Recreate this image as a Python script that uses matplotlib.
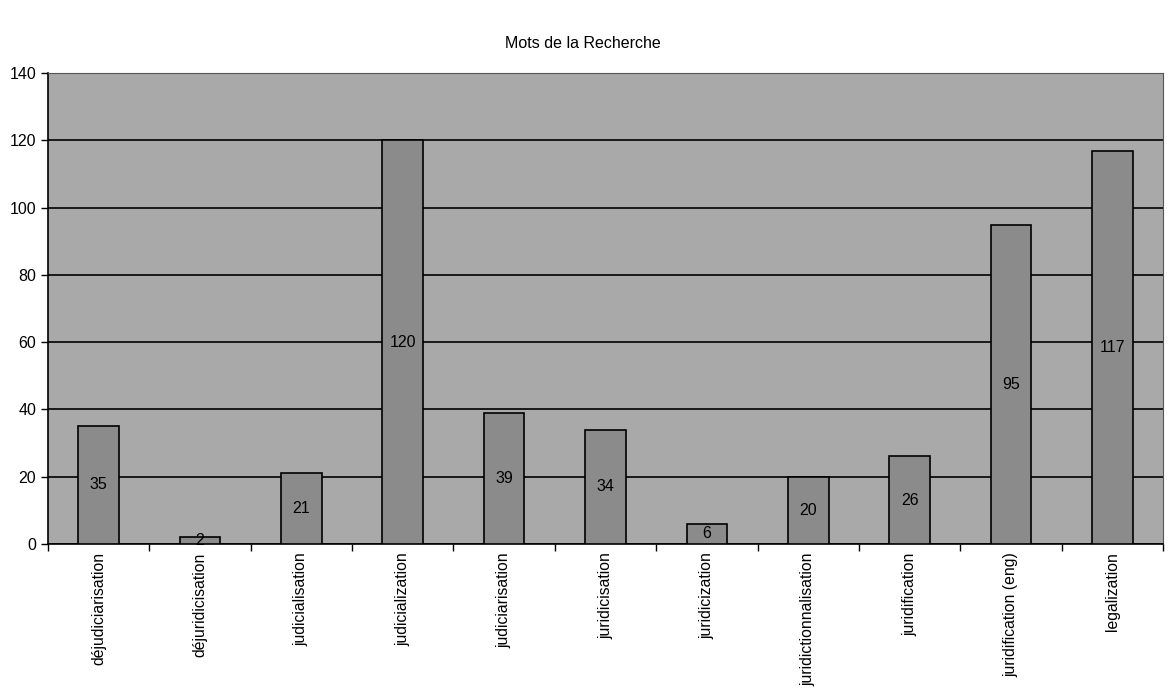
import matplotlib
matplotlib.use("Agg")
import matplotlib.pyplot as plt
import numpy as np

plt.rcParams['font.family'] = ['Liberation Sans', 'DejaVu Sans']

categories = ["déjudiciarisation", "déjuridicisation", "judicialisation", "judicialization",
              "judiciarisation", "juridicisation", "juridicization", "juridictionnalisation",
              "juridification", "juridification (eng)", "legalization"]
values = [35, 2, 21, 120, 39, 34, 6, 20, 26, 95, 117]
yticks = [0, 20, 40, 60, 80, 100, 120, 140]
title = "Mots de la Recherche"

fig = plt.figure(figsize=(11.69, 6.91), dpi=100)
ax = fig.add_axes([0.041, 0.213, 0.954, 0.681])
ax.set_facecolor('#a9a9a9')

x = np.arange(len(categories))
ax.set_axisbelow(True)
ax.yaxis.grid(True, color='black', linewidth=1.2)
bars = ax.bar(x, values, width=0.4, color='#8b8b8b', edgecolor='black', linewidth=1.2, zorder=3)
for xi, v in zip(x, values):
    ax.text(xi, v / 2, str(v), ha='center', va='center', fontsize=11.5, color='black', zorder=4)

ax.set_xlim(-0.5, len(categories) - 0.5)
ax.set_ylim(0, 140)
ax.set_yticks(yticks)
ax.set_yticklabels([str(t) for t in yticks], fontsize=11.5)
ax.set_xticks(np.arange(len(categories) + 1) - 0.5)
ax.set_xticklabels([])
ax.set_xticks(x, minor=True)
ax.set_xticklabels(categories, minor=True, rotation=90, fontsize=11.3, va='top')
ax.tick_params(axis='x', which='minor', length=0, pad=6)
ax.tick_params(axis='x', which='major', length=5, width=1, direction='out')
ax.tick_params(axis='y', length=5, width=1, direction='out')
for side in ['top', 'right']:
    ax.spines[side].set_color('#555555')
    ax.spines[side].set_linewidth(0.8)
for side in ['left', 'bottom']:
    ax.spines[side].set_color('black')
    ax.spines[side].set_linewidth(1.2)

fig.text(0.499, 0.937, title, ha='center', va='center', fontsize=11.5)

fig.savefig("out.png", dpi=100, facecolor='white')
